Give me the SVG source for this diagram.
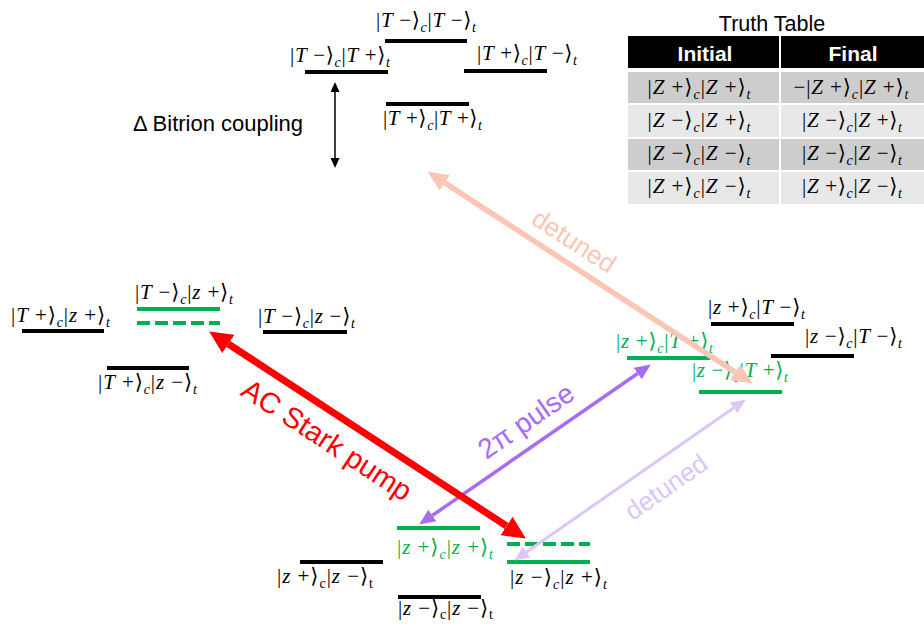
<svg xmlns="http://www.w3.org/2000/svg" width="924" height="624" viewBox="0 0 924 624">
<style>
.m{font-family:"Liberation Serif","DejaVu Serif",serif;font-size:21px;fill:#000}
.g{fill:#00b050}
.i{font-style:italic}
.sb{font-size:14px;font-style:italic}
.sr{font-size:14px}
.lv{stroke-width:4;stroke:#000}
.gl{stroke-width:4;stroke:#00b050}
.gd{stroke-width:4;stroke:#00b050;stroke-dasharray:13 5}
.sans{font-family:"Liberation Sans",Arial,sans-serif}
.cell{font-family:"Liberation Serif","DejaVu Serif",serif;font-size:21px;text-anchor:middle}
</style>
<defs>
<marker id="hRed" markerUnits="userSpaceOnUse" markerWidth="24" markerHeight="22" refX="0" refY="11" orient="auto-start-reverse"><path d="M0,0 L23,11 L0,22 z" fill="#ff0000"/></marker>
<marker id="hPur" markerUnits="userSpaceOnUse" markerWidth="16" markerHeight="14" refX="0" refY="7" orient="auto-start-reverse"><path d="M0,0 L16,7 L0,14 z" fill="#a66cf6"/></marker>
<marker id="hLav" markerUnits="userSpaceOnUse" markerWidth="15" markerHeight="13" refX="0" refY="6.5" orient="auto-start-reverse"><path d="M0,0 L15,6.5 L0,13 z" fill="#dcc6f9"/></marker>
<marker id="hPink" markerUnits="userSpaceOnUse" markerWidth="21" markerHeight="18" refX="0" refY="9" orient="auto-start-reverse"><path d="M0,0 L21,9 L0,18 z" fill="#fbc6b6"/></marker>
<marker id="hBlk" markerUnits="userSpaceOnUse" markerWidth="10" markerHeight="9" refX="0" refY="4.5" orient="auto-start-reverse"><path d="M0,0 L10,4.5 L0,9 z" fill="#000"/></marker>
</defs>
<rect width="924" height="624" fill="#fff"/>

<!-- Top bitrion cluster -->
<g id="TmTm">
<line class="lv" x1="385" y1="41" x2="467" y2="41"/>
<text class="m" x="376" y="27" textLength="100">|<tspan class="i">T</tspan> −⟩<tspan class="sb" dy="5">c</tspan><tspan dy="-5">|</tspan><tspan class="i">T</tspan> −⟩<tspan class="sb" dy="5">t</tspan></text>
</g>
<g id="TmTp">
<line class="lv" x1="305" y1="72" x2="388" y2="72"/>
<text class="m" x="290" y="62" textLength="100">|<tspan class="i">T</tspan> −⟩<tspan class="sb" dy="5">c</tspan><tspan dy="-5">|</tspan><tspan class="i">T</tspan> +⟩<tspan class="sb" dy="5">t</tspan></text>
</g>
<g id="TpTm">
<line class="lv" x1="464" y1="71" x2="547" y2="71"/>
<text class="m" x="477" y="60" textLength="100">|<tspan class="i">T</tspan> +⟩<tspan class="sb" dy="5">c</tspan><tspan dy="-5">|</tspan><tspan class="i">T</tspan> −⟩<tspan class="sb" dy="5">t</tspan></text>
</g>
<g id="TpTp">
<line class="lv" x1="386" y1="104" x2="469" y2="104"/>
<text class="m" x="383" y="125" textLength="99">|<tspan class="i">T</tspan> +⟩<tspan class="sb" dy="5">c</tspan><tspan dy="-5">|</tspan><tspan class="i">T</tspan> +⟩<tspan class="sb" dy="5">t</tspan></text>
</g>
<g id="bitrion">
<text class="sans" x="133" y="131" font-size="22">Δ Bitrion coupling</text>
</g>

<!-- Truth table -->
<g id="truthTable">
<text class="sans" x="772" y="31" font-size="21.5" text-anchor="middle">Truth Table</text>
<rect x="628" y="36" width="296" height="32" fill="#000"/>
<rect x="779" y="36" width="2" height="32" fill="#fff"/>
<text class="sans" x="705" y="61" font-size="21" font-weight="bold" fill="#fff" text-anchor="middle">Initial</text>
<text class="sans" x="853" y="61" font-size="21" font-weight="bold" fill="#fff" text-anchor="middle">Final</text>
<rect x="628" y="72" width="151" height="31" fill="#cdcdcd"/>
<rect x="781" y="72" width="143" height="31" fill="#cdcdcd"/>
<rect x="628" y="105" width="151" height="32" fill="#e8e8e8"/>
<rect x="781" y="105" width="143" height="32" fill="#e8e8e8"/>
<rect x="628" y="139" width="151" height="31" fill="#cdcdcd"/>
<rect x="781" y="139" width="143" height="31" fill="#cdcdcd"/>
<rect x="628" y="172" width="151" height="32" fill="#e8e8e8"/>
<rect x="781" y="172" width="143" height="32" fill="#e8e8e8"/>
<text class="cell" x="699" y="94" textLength="103">|<tspan class="i">Z</tspan> +⟩<tspan class="sb" dy="5">c</tspan><tspan dy="-5">|</tspan><tspan class="i">Z</tspan> +⟩<tspan class="sb" dy="5">t</tspan></text>
<text class="cell" x="851" y="94" textLength="115">−|<tspan class="i">Z</tspan> +⟩<tspan class="sb" dy="5">c</tspan><tspan dy="-5">|</tspan><tspan class="i">Z</tspan> +⟩<tspan class="sb" dy="5">t</tspan></text>
<text class="cell" x="699" y="127" textLength="103">|<tspan class="i">Z</tspan> −⟩<tspan class="sb" dy="5">c</tspan><tspan dy="-5">|</tspan><tspan class="i">Z</tspan> +⟩<tspan class="sb" dy="5">t</tspan></text>
<text class="cell" x="852" y="127" textLength="100">|<tspan class="i">Z</tspan> −⟩<tspan class="sb" dy="5">c</tspan><tspan dy="-5">|</tspan><tspan class="i">Z</tspan> +⟩<tspan class="sb" dy="5">t</tspan></text>
<text class="cell" x="699" y="160" textLength="103">|<tspan class="i">Z</tspan> −⟩<tspan class="sb" dy="5">c</tspan><tspan dy="-5">|</tspan><tspan class="i">Z</tspan> −⟩<tspan class="sb" dy="5">t</tspan></text>
<text class="cell" x="852" y="160" textLength="100">|<tspan class="i">Z</tspan> −⟩<tspan class="sb" dy="5">c</tspan><tspan dy="-5">|</tspan><tspan class="i">Z</tspan> −⟩<tspan class="sb" dy="5">t</tspan></text>
<text class="cell" x="699" y="193" textLength="103">|<tspan class="i">Z</tspan> +⟩<tspan class="sb" dy="5">c</tspan><tspan dy="-5">|</tspan><tspan class="i">Z</tspan> −⟩<tspan class="sb" dy="5">t</tspan></text>
<text class="cell" x="852" y="193" textLength="100">|<tspan class="i">Z</tspan> +⟩<tspan class="sb" dy="5">c</tspan><tspan dy="-5">|</tspan><tspan class="i">Z</tspan> −⟩<tspan class="sb" dy="5">t</tspan></text>
</g>

<!-- Left cluster -->
<g id="TpZp">
<line class="lv" x1="22" y1="331" x2="104" y2="331"/>
<text class="m" x="11" y="322" textLength="99">|<tspan class="i">T</tspan> +⟩<tspan class="sb" dy="5">c</tspan><tspan dy="-5">|</tspan><tspan class="i">z</tspan> +⟩<tspan class="sb" dy="5">t</tspan></text>
</g>
<g id="TmZp">
<text class="m" x="135" y="299" textLength="98">|<tspan class="i">T</tspan> −⟩<tspan class="sb" dy="5">c</tspan><tspan dy="-5">|</tspan><tspan class="i">z</tspan> +⟩<tspan class="sb" dy="5">t</tspan></text>
<line class="gl" x1="137" y1="309" x2="220" y2="309"/>
<line class="gd" x1="137" y1="323" x2="220" y2="323"/>
</g>
<g id="TmZm">
<line class="lv" x1="263" y1="332" x2="347" y2="332"/>
<text class="m" x="258" y="323" textLength="97">|<tspan class="i">T</tspan> −⟩<tspan class="sb" dy="5">c</tspan><tspan dy="-5">|</tspan><tspan class="i">z</tspan> −⟩<tspan class="sb" dy="5">t</tspan></text>
</g>
<g id="TpZm">
<line class="lv" x1="107" y1="368" x2="189" y2="368"/>
<text class="m" x="98" y="389" textLength="99">|<tspan class="i">T</tspan> +⟩<tspan class="sb" dy="5">c</tspan><tspan dy="-5">|</tspan><tspan class="i">z</tspan> −⟩<tspan class="sb" dy="5">t</tspan></text>
</g>

<!-- Right cluster -->
<g id="ZpTm">
<line class="lv" x1="711" y1="324" x2="794" y2="324"/>
<text class="m" x="708" y="314" textLength="97">|<tspan class="i">z</tspan> +⟩<tspan class="sb" dy="5">c</tspan><tspan dy="-5">|</tspan><tspan class="i">T</tspan> −⟩<tspan class="sb" dy="5">t</tspan></text>
</g>
<g id="ZmTm">
<line class="lv" x1="771" y1="356" x2="854" y2="356"/>
<text class="m" x="805" y="343" textLength="97">|<tspan class="i">z</tspan> −⟩<tspan class="sb" dy="5">c</tspan><tspan dy="-5">|</tspan><tspan class="i">T</tspan> −⟩<tspan class="sb" dy="5">t</tspan></text>
</g>
<g id="ZpTp">
<line class="gl" x1="627" y1="358" x2="710" y2="358"/>
<text class="m g" x="616" y="348" textLength="97">|<tspan class="i">z</tspan> +⟩<tspan class="sb" dy="5">c</tspan><tspan dy="-5">|</tspan><tspan class="i">T</tspan> +⟩<tspan class="sb" dy="5">t</tspan></text>
</g>
<g id="ZmTp">
<line class="gl" x1="699" y1="392" x2="782" y2="392"/>
<text class="m g" x="692" y="377" textLength="96">|<tspan class="i">z</tspan> −⟩<tspan class="sb" dy="5">c</tspan><tspan dy="-5">|</tspan><tspan class="i">T</tspan> +⟩<tspan class="sb" dy="5">t</tspan></text>
</g>

<!-- Bottom cluster -->
<g id="ZpZp">
<line class="gl" x1="397" y1="528" x2="480" y2="528"/>
<text class="m g" x="397" y="554" textLength="96">|<tspan class="i">z</tspan> +⟩<tspan class="sb" dy="5">c</tspan><tspan dy="-5">|</tspan><tspan class="i">z</tspan> +⟩<tspan class="sb" dy="5">t</tspan></text>
</g>
<g id="ZmZp">
<line class="gd" x1="507" y1="544" x2="590" y2="544"/>
<line class="gl" x1="507" y1="562" x2="590" y2="562"/>
<text class="m" x="510" y="584" textLength="97">|<tspan class="i">z</tspan> −⟩<tspan class="sb" dy="5">c</tspan><tspan dy="-5">|</tspan><tspan class="i">z</tspan> +⟩<tspan class="sb" dy="5">t</tspan></text>
</g>
<g id="ZpZm">
<line class="lv" x1="300" y1="562" x2="383" y2="562"/>
<text class="m" x="277" y="583" textLength="96">|<tspan class="i">z</tspan> +⟩<tspan class="sr" dy="5">c</tspan><tspan dy="-5">|</tspan><tspan class="i">z</tspan> −⟩<tspan class="sr" dy="5">t</tspan></text>
</g>
<g id="ZmZm">
<line class="lv" x1="398" y1="597" x2="481" y2="597"/>
<text class="m" x="398" y="615" textLength="95">|<tspan class="i">z</tspan> −⟩<tspan class="sr" dy="4">c</tspan><tspan dy="-4">|</tspan><tspan class="i">z</tspan> −⟩<tspan class="sr" dy="4">t</tspan></text>
</g>

<!-- Connectors -->
<g id="connectors" fill="none">
<line x1="335" y1="92" x2="335" y2="158" stroke="#000" stroke-width="1.5" marker-start="url(#hBlk)" marker-end="url(#hBlk)"/>
<line x1="444.8" y1="182.9" x2="735.2" y2="372.1" stroke="#fbc6b6" stroke-width="5.5" marker-start="url(#hPink)" marker-end="url(#hPink)"/>
<line x1="432.3" y1="515.5" x2="637.7" y2="373.5" stroke="#a66cf6" stroke-width="3.5" marker-start="url(#hPur)" marker-end="url(#hPur)"/>
<line x1="228.4" y1="344.0" x2="506.6" y2="526.0" stroke="#ff0000" stroke-width="7" marker-start="url(#hRed)" marker-end="url(#hRed)"/>
<line x1="526.5" y1="552.0" x2="733.5" y2="408.0" stroke="#dcc6f9" stroke-width="3" marker-start="url(#hLav)" marker-end="url(#hLav)"/>
</g>
<g id="labels" class="sans">
<text x="0" y="0" font-size="29" fill="#ff0000" text-anchor="middle" dominant-baseline="central" transform="translate(327,440) rotate(33.2)">AC Stark pump</text>
<text x="0" y="0" font-size="28" fill="#a66cf6" text-anchor="middle" dominant-baseline="central" transform="translate(526,421) rotate(-34.7)">2π pulse</text>
<text x="0" y="0" font-size="26" fill="#fbc6b6" text-anchor="middle" dominant-baseline="central" transform="translate(574,241) rotate(33)">detuned</text>
<text x="0" y="0" font-size="26" fill="#dcc6f9" text-anchor="middle" dominant-baseline="central" transform="translate(666,487) rotate(-34.8)">detuned</text>
</g>
</svg>
